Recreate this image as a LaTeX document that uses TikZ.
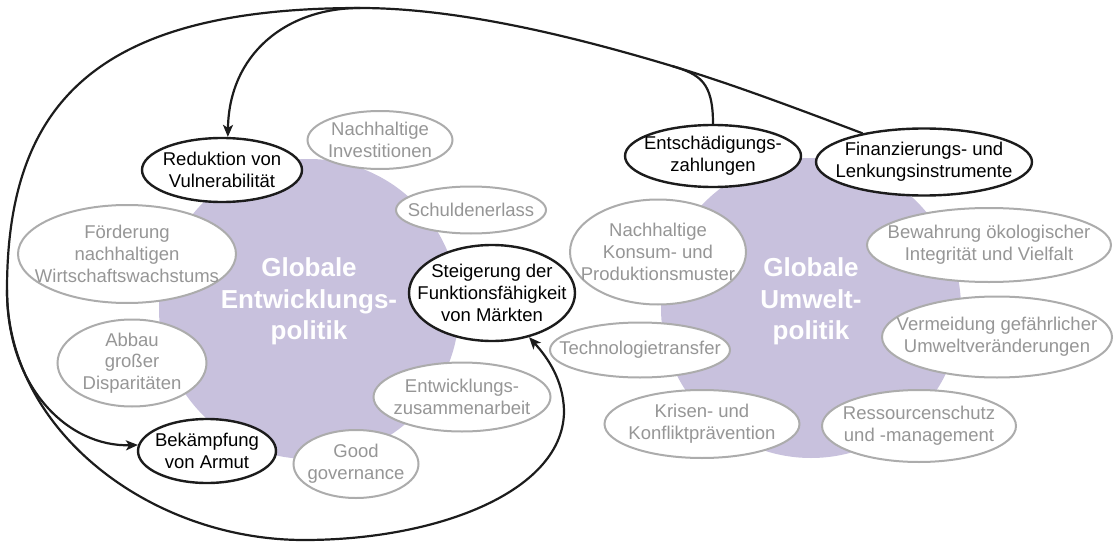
\documentclass[tikz,border=0pt]{standalone}
\usepackage{fontspec}
\setmainfont{Liberation Sans}
\usetikzlibrary{shapes.geometric,arrows.meta}
\definecolor{lil}{RGB}{200,193,221}
\definecolor{gtx}{RGB}{150,150,150}
\definecolor{gbd}{RGB}{172,172,172}
\definecolor{ink}{RGB}{28,28,28}
\begin{document}
\begin{tikzpicture}[x=1pt,y=-1pt,
  blob/.style={circle,fill=lil,draw=none,minimum size=300pt,inner sep=0pt},
  ell/.style={ellipse,fill=white,inner sep=0pt},
  bell/.style={ell,draw=ink,line width=2.4pt},
  gell/.style={ell,draw=gbd,line width=2pt},
  txt/.style={align=center,inner sep=0pt,font=\fontsize{18.5}{21.7}\selectfont},
  btxt/.style={txt,text=black},
  gtxt/.style={txt,text=gtx},
  ctxt/.style={align=center,inner sep=0pt,text=white,font=\fontsize{26}{31.7}\selectfont\bfseries},
  conn/.style={draw=ink,line width=2.2pt},
  arr/.style={conn,-{Stealth[length=12pt,width=10pt,inset=3pt]}}
]
\useasboundingbox (0,0) rectangle (1114,543);

% background discs
\node[blob] (dev) at (309,309) {};
\node[blob] (env) at (811,308) {};
\node[ctxt] (dev-t) at (309,301.5) {Globale\\Entwicklungs-\\politik};
\node[ctxt] (env-t) at (811,301.5) {Globale\\Umwelt-\\politik};

% development policy ellipses
\node[bell,minimum width=160pt,minimum height=64pt] (red) at (222,170) {};
\node[btxt] (red-t) at (red) {Reduktion von\\Vulnerabilität};
\node[gell,minimum width=145pt,minimum height=58pt] (inv) at (380,140) {};
\node[gtxt] (inv-t) at (inv) {Nachhaltige\\Investitionen};
\node[gell,minimum width=150pt,minimum height=47pt] (sch) at (471,210) {};
\node[gtxt] (sch-t) at (sch) {Schuldenerlass};
\node[gell,minimum width=218pt,minimum height=98pt] (foe) at (127,254) {};
\node[gtxt] (foe-t) at (foe) {Förderung\\nachhaltigen\\Wirtschaftswachstums};
\node[gell,minimum width=149pt,minimum height=87pt] (abb) at (132,363) {};
\node[gtxt] (abb-t) at (abb) {Abbau\\großer\\Disparitäten};
\node[bell,minimum width=138pt,minimum height=64pt] (bek) at (207,451) {};
\node[btxt] (bek-t) at (bek) {Bekämpfung\\von Armut};
\node[gell,minimum width=125pt,minimum height=68pt] (goo) at (356,464) {};
\node[gtxt] (goo-t) at (goo) {Good\\governance};
\node[gell,minimum width=177pt,minimum height=69pt] (ewz) at (462,397) {};
\node[gtxt] (ewz-t) at (ewz) {Entwicklungs-\\zusammenarbeit};
\node[bell,minimum width=166pt,minimum height=96pt] (ste) at (492,293) {};
\node[btxt] (ste-t) at (ste) {Steigerung der\\Funktionsfähigkeit\\von Märkten};

% environmental policy ellipses
\node[bell,minimum width=176pt,minimum height=62pt] (ent) at (713,156) {};
\node[btxt] (ent-t) at (ent) {Entschädigungs-\\zahlungen};
\node[bell,minimum width=216pt,minimum height=67pt] (fin) at (924,162) {};
\node[btxt] (fin-t) at (fin) {Finanzierungs- und\\Lenkungsinstrumente};
\node[gell,minimum width=176pt,minimum height=105pt] (kon) at (658,252) {};
\node[gtxt] (kon-t) at (kon) {Nachhaltige\\Konsum- und\\Produktionsmuster};
\node[gell,minimum width=244pt,minimum height=74pt] (bew) at (989,245) {};
\node[gtxt] (bew-t) at (bew) {Bewahrung ökologischer\\Integrität und Vielfalt};
\node[gell,minimum width=180pt,minimum height=55pt] (tec) at (640,350) {};
\node[gtxt] (tec-t) at (tec) {Technologietransfer};
\node[gell,minimum width=230pt,minimum height=81pt] (ver) at (997,337) {};
\node[gtxt] (ver-t) at (ver) {Vermeidung gefährlicher\\Umweltveränderungen};
\node[gell,minimum width=195pt,minimum height=68pt] (kri) at (702,424) {};
\node[gtxt] (kri-t) at (kri) {Krisen- und\\Konfliktprävention};
\node[gell,minimum width=194pt,minimum height=72pt] (res) at (919,426) {};
\node[gtxt] (res-t) at (res) {Ressourcenschutz\\und -management};

% junction points
\coordinate (J) at (672,66);
\coordinate (T) at (360,8);
\coordinate (L) at (7,290);
\coordinate (B) at (304,540);
\coordinate (R) at (564,410);

% connectors
\draw[conn] (fin.155) .. controls (798,109) and (732,84) .. (J)
            .. controls (577,37.5) and (460,8) .. (T);
\draw[conn] (ent.north) .. controls (713,82) and (700,74.4) .. (J);
\draw[arr] (T) .. controls (285,8) and (229,55) .. (red.80);
\draw[conn] (T) .. controls (100,8) and (7,100) .. (L);
\draw[arr] (L) .. controls (7,430) and (150,540) .. (B)
           .. controls (440,540) and (565,490) .. (R)
           .. controls (563,380) and (548,358) .. (ste.-50);
\draw[arr] (L) .. controls (7,390) and (70,447) .. (bek.175);
\end{tikzpicture}
\end{document}
